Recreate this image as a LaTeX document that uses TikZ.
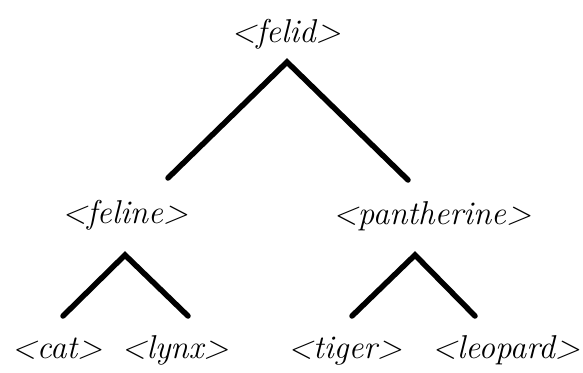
\documentclass[tikz,border=0pt]{standalone}
\usepackage{tikz}
\usetikzlibrary{positioning}

\begin{document}
\begin{tikzpicture}[x=1pt, y=-1pt,
            tag/.style={inner sep=0pt, anchor=base, font=\fontsize{33}{38}\selectfont\itshape},
            branch/.style={line width=5.5pt, line cap=round, line join=miter}]
          \useasboundingbox (0,0) rectangle (583,372);
          % category labels
          \node[tag] (felid) at (286,42) {<felid>};
          \node[tag] (feline) at (125,223) {<feline>};
          \node[tag] (panth) at (432,224) {<pantherine>};
          \node[tag] (cat) at (57,358) {<cat>};
          \node[tag] (lynx) at (175,358) {<lynx>};
          \node[tag] (tiger) at (345,358) {<tiger>};
          \node[tag] (leopard) at (506,358) {<leopard>};
          % branch points
          \coordinate (felid-top) at (287,62);
          \coordinate (felid-l) at (168,178);
          \coordinate (felid-r) at (408,180);
          \coordinate (feline-top) at (125,255);
          \coordinate (feline-l) at (63,316);
          \coordinate (feline-r) at (188,316);
          \coordinate (panth-top) at (415,255);
          \coordinate (panth-l) at (352,316);
          \coordinate (panth-r) at (475,316);
          \draw[branch] (felid-l) -- (felid-top) -- (felid-r);
          \draw[branch] (feline-l) -- (feline-top) -- (feline-r);
          \draw[branch] (panth-l) -- (panth-top) -- (panth-r);
        \end{tikzpicture}
\end{document}
